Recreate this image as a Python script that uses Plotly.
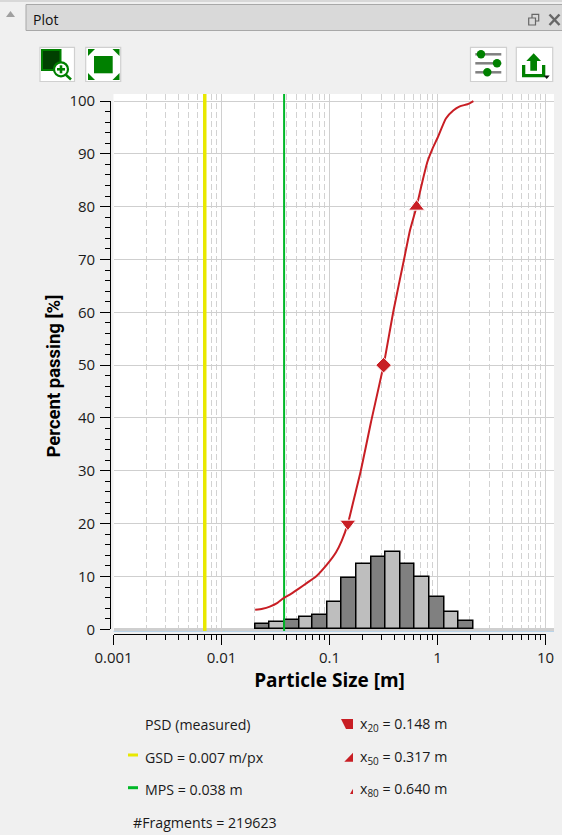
import numpy as np
import plotly.graph_objects as go

# ---- data ----
psd_size = [0.0205, 0.024, 0.028, 0.033, 0.037, 0.044, 0.052, 0.062, 0.075, 0.095, 0.115, 0.13, 0.148, 0.17, 0.195, 0.241, 0.317, 0.393, 0.49, 0.556, 0.64, 0.72, 0.807, 0.9, 1.0, 1.197, 1.40, 1.61, 1.90, 2.15]
psd_pass = [3.7, 3.9, 4.3, 5.0, 5.8, 6.7, 7.7, 8.8, 10.0, 12.3, 14.6, 16.8, 20.0, 25.0, 30.0, 39.0, 50.0, 60.5, 70.0, 75.5, 80.0, 84.5, 88.5, 91.0, 93.0, 96.7, 98.2, 99.0, 99.4, 100.0]
bar_edges = [0.0206, 0.0281, 0.0381, 0.0527, 0.0702, 0.0966, 0.130, 0.178, 0.245, 0.330, 0.458, 0.618, 0.851, 1.171, 1.563, 2.138]
bar_heights = [1.0, 1.3, 1.7, 2.25, 2.65, 5.25, 9.8, 12.3, 13.75, 14.55, 12.35, 9.95, 6.2, 3.2, 1.5]
bar_colors = ["#808080", "#bebebe"]
gsd = 0.007
mps = 0.038
x20, x50, x80 = 0.148, 0.317, 0.640
fragments = 219623

W, H = 562, 835
FONT = "Open Sans"
RED = "#c81e24"
GREEN = "#008000"
LEG = 14.2


def fx(p):
    return p / W


def fy(p):
    return 1 - p / H


shapes = []
annotations = []


def rect(x0, y0, x1, y1, fill, line=None, lw=1, layer="above"):
    shapes.append(dict(type="rect", xref="paper", yref="paper", x0=fx(x0), x1=fx(x1), y0=fy(y1), y1=fy(y0),
                       fillcolor=fill, line=dict(color=line or fill, width=lw if line else 0), layer=layer))


def seg(x0, y0, x1, y1, color, lw=1):
    shapes.append(dict(type="line", xref="paper", yref="paper", x0=fx(x0), x1=fx(x1), y0=fy(y0), y1=fy(y1),
                       line=dict(color=color, width=lw), layer="above"))


def circ(cx, cy, r, fill, line=None, lw=1):
    shapes.append(dict(type="circle", xref="paper", yref="paper", x0=fx(cx - r), x1=fx(cx + r), y0=fy(cy + r), y1=fy(cy - r),
                       fillcolor=fill, line=dict(color=line or fill, width=lw if line else 0), layer="above"))


def poly(pts, fill):
    d = "M" + " L".join(f"{fx(a):.5f},{fy(b):.5f}" for a, b in pts) + " Z"
    shapes.append(dict(type="path", xref="paper", yref="paper", path=d, fillcolor=fill, line=dict(width=0), layer="above"))


def label(px, py, text, size=14, anchor="left", color="#1a1a1a", angle=0, family=FONT):
    annotations.append(dict(xref="paper", yref="paper", x=fx(px), y=fy(py), text=text, showarrow=False,
                            xanchor=anchor, yanchor="middle", textangle=angle,
                            font=dict(family=family, size=size, color=color)))


fig = go.Figure()

# histogram: on a log axis Plotly takes bar position and width in data units
edges = np.array(bar_edges)
fig.add_trace(go.Bar(x=(edges[:-1] + edges[1:]) / 2, y=bar_heights, width=np.diff(edges),
                     marker=dict(color=[bar_colors[i % 2] for i in range(len(bar_heights))],
                                 line=dict(color="black", width=1.5)),
                     showlegend=False))
# reference lines
fig.add_trace(go.Scatter(x=[gsd, gsd], y=[-0.3, 101.33], mode="lines", line=dict(color="#e8e800", width=3.5), showlegend=False))
fig.add_trace(go.Scatter(x=[mps, mps], y=[-0.3, 101.33], mode="lines", line=dict(color="#00b828", width=2), showlegend=False))
# PSD curve
fig.add_trace(go.Scatter(x=psd_size, y=psd_pass, mode="lines", line=dict(color=RED, width=2, shape="spline", smoothing=0.5), showlegend=False))
# percentile markers
fig.add_trace(go.Scatter(x=[x20, x50, x80], y=[20, 50, 80], mode="markers",
                         marker=dict(color=RED, opacity=1, size=[14, 12, 14], symbol=["triangle-down", "diamond", "triangle-up"]),
                         showlegend=False))
# empty trace that carries the offset black axes
fig.add_trace(go.Scatter(x=[None], y=[None], xaxis="x2", yaxis="y2", showlegend=False))

fig.update_layout(
    width=W, height=H, margin=dict(l=0, r=0, t=0, b=0, pad=0, autoexpand=False), autosize=False,
    paper_bgcolor="#f0f0f0", plot_bgcolor="rgba(0,0,0,0)", bargap=0, barmode="overlay",
    font=dict(family=FONT, size=14, color="#1a1a1a"),
    xaxis=dict(type="log", domain=[fx(113.5), fx(554)], range=[-3, 1.079],
               showticklabels=False, ticks="", showline=False, dtick=1,
               showgrid=True, gridcolor="#d0d0d0", gridwidth=1, zeroline=False,
               minor=dict(dtick="D1", showgrid=True, gridcolor="#d2d2d2", gridwidth=1.2, griddash="6px,3px", ticks="")),
    yaxis=dict(domain=[fy(632), fy(94)], range=[-0.51, 101.33], dtick=10, tick0=0,
               showticklabels=False, ticks="", showline=False,
               showgrid=True, gridcolor="#cfcfcf", gridwidth=1.2,
               zeroline=True, zerolinecolor="#cfcfcf", zerolinewidth=3),
    xaxis2=dict(type="log", domain=[fx(113.5), fx(545.5)], range=[-3, 1], anchor="free", position=fy(633.5),
                showgrid=False, zeroline=False, showline=True, linecolor="black", linewidth=1.3,
                ticks="outside", ticklen=10, tickwidth=1.3, tickcolor="black", tickmode="linear", tick0=0, dtick=1,
                exponentformat="none", tickfont=dict(size=15, family=FONT, color="#1a1a1a"),
                minor=dict(dtick="D1", ticks="outside", ticklen=5, tickwidth=1.3, tickcolor="black", showgrid=False),
                title=dict(text="<b>Particle Size [m]</b>", font=dict(size=19, family=FONT, color="black"), standoff=6)),
    yaxis2=dict(domain=[fy(629.3), fy(101)], range=[0, 100], anchor="free", position=fx(110.3),
                showgrid=False, zeroline=False, showline=True, linecolor="black", linewidth=1.3,
                ticks="outside", ticklen=10, tickwidth=1.3, tickcolor="black", dtick=10, tick0=0,
                ticklabelstandoff=2,
                tickfont=dict(size=15, family=FONT, color="#1a1a1a"),
                minor=dict(dtick=2, ticks="outside", ticklen=5, tickwidth=1.3, tickcolor="black", showgrid=False)),
)

# white plot surface and blue hairline under the plot
rect(113.5, 94, 554, 632, "white", layer="below")
shapes.append(dict(type="line", xref="paper", yref="y", x0=fx(113.5), x1=fx(554), y0=-0.38, y1=-0.38,
                   line=dict(color="#b9d3e8", width=1.5), layer="below"))

# y title
label(53.5, 376, "<b>Percent passing [%]</b>", size=18.5, anchor="center", color="black", angle=-90, family="Roboto")

# legend, left column
label(143, 724, "PSD (measured)", size=LEG)
label(143, 757, f"GSD = {gsd:.3f} m/px", size=LEG)
label(143, 789, f"MPS = {mps:.3f} m", size=LEG)
label(131, 822, f"#Fragments = {fragments}", size=LEG)
seg(128, 755, 138, 755, "#e8e800", 3)
seg(128, 787.7, 138, 787.7, "#00b828", 3)
# legend, right column
label(358, 724, f"x<sub>20</sub> = {x20:.3f} m", size=LEG)
label(358, 757, f"x<sub>50</sub> = {x50:.3f} m", size=LEG)
label(358, 789, f"x<sub>80</sub> = {x80:.3f} m", size=LEG)
poly([(341, 719), (353, 719), (353, 729), (346, 729)], RED)
poly([(344.3, 761.7), (353, 761.7), (353, 752.7)], RED)
poly([(350, 794), (353, 794), (353, 788.7)], RED)

# panel header
seg(0, 1, W, 1, "#c0c0c0", 1)
rect(26, 4.5, 563, 30.5, "#d9d9d9", "#a8a8a8", 1)
label(31, 20, "Plot", size=14, color="#111111")
poly([(6, 17), (15, 17), (10.5, 11)], "#a0a0a0")
# window buttons
rect(532, 14.3, 538.7, 21, "#d9d9d9", "#666666", 1.2)
rect(528.7, 18, 535.5, 25, "#d9d9d9", "#666666", 1.2)
seg(549.5, 14.5, 559.5, 25, "#666666", 2.5)
seg(559.5, 14.5, 549.5, 25, "#666666", 2.5)


def button(x0, x1):
    shapes.append(dict(type="rect", xref="paper", yref="paper", x0=fx(x0), x1=fx(x1), y0=fy(81.5), y1=fy(47.3),
                       fillcolor="white", line=dict(color="#d0d0d0", width=1.2), layer="above"))


# zoom button
button(40, 74.5)
rect(42, 50, 60.5, 70, "#004000", GREEN, 2)
seg(65, 74, 71, 79.5, GREEN, 2.5)
circ(61, 69.3, 7, "white", GREEN, 2.2)
seg(57, 69.3, 65, 69.3, GREEN, 2.6)
seg(61, 65.3, 61, 73.3, GREEN, 2.6)
# fit button
button(85.7, 120.7)
rect(94, 56, 112.7, 73.3, GREEN)
for cx, cy, dx, dy in [(88, 49, 1, 1), (119.5, 49, -1, 1), (88, 80, 1, -1), (119.5, 80, -1, -1)]:
    poly([(cx, cy), (cx + dx * 7, cy), (cx, cy + dy * 7)], GREEN)
# settings button
button(470.5, 506.5)
for yy, xx in [(54.3, 481), (63.3, 497), (72.3, 487.3)]:
    seg(475.3, yy, 501.3, yy, "#808080", 2.5)
    circ(xx, yy, 4.2, GREEN)
# export button
button(516.3, 552.7)
poly([(533.7, 53.3), (541, 61), (537, 61), (537, 70.7), (530.3, 70.7), (530.3, 61), (526.3, 61)], GREEN)
poly([(522, 65), (525.3, 65), (525.3, 74), (542, 74), (542, 65), (545.3, 65), (545.3, 77.3), (522, 77.3)], GREEN)
poly([(543.7, 75.5), (549.7, 75.5), (546.7, 79)], "#111111")

fig.update_layout(shapes=shapes, annotations=annotations)
fig.write_html("out.html", config={"displayModeBar": False},
               post_script="document.body.style.margin='0';document.body.style.overflow='hidden';")
